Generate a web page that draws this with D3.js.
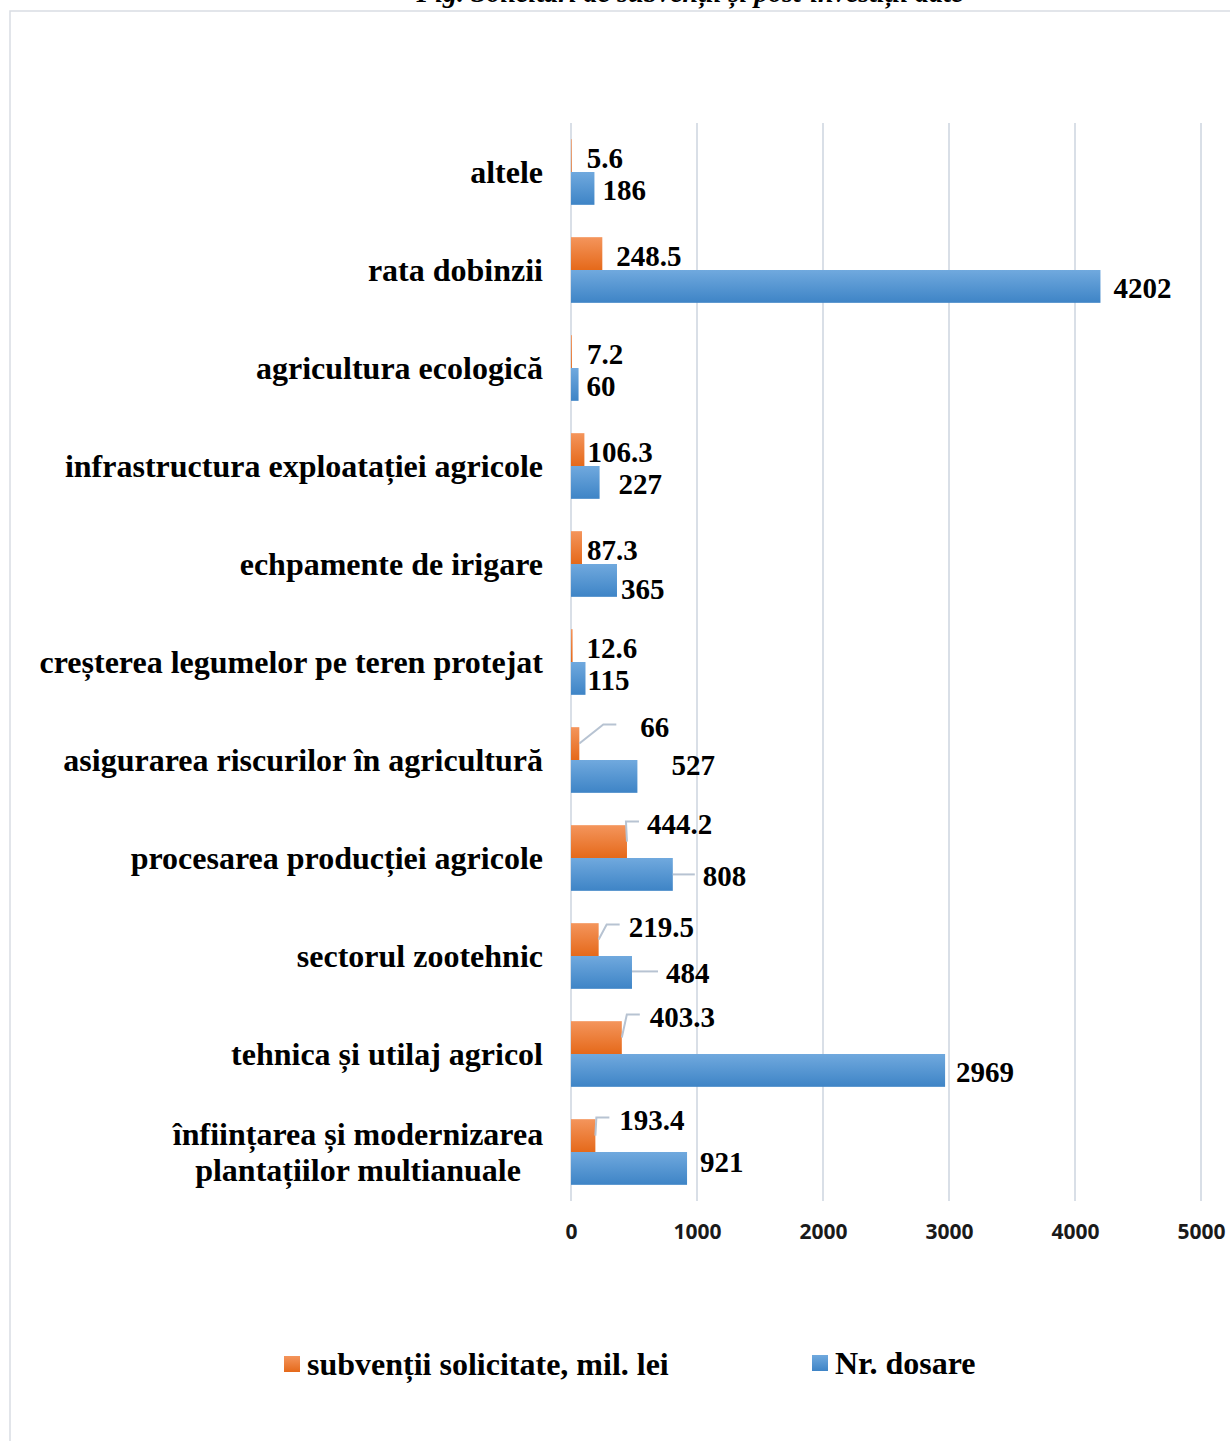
<!DOCTYPE html>
<html>
<head>
<meta charset="utf-8">
<script src="https://cdn.jsdelivr.net/npm/d3@7"></script>
<style>
  html, body { margin: 0; padding: 0; background: #fff; }
  svg { display: block; }
  .cat { font-family: "Liberation Serif", "Times New Roman", serif; font-weight: bold; font-size: 32px; fill: #000; }
  .val { font-family: "Liberation Serif", "Times New Roman", serif; font-weight: bold; font-size: 29px; fill: #000; }
  .tick text { font-family: "Open Sans", "Noto Sans", sans-serif; font-weight: bold; font-size: 21px; fill: #1a1a1a; }
  .legend text { font-family: "Liberation Serif", "Times New Roman", serif; font-weight: bold; font-size: 32px; fill: #000; }
</style>
</head>
<body>
<div id="chart"></div>
<script>
// categories, top to bottom as drawn
const categories = [
  'altele',
  'rata dobinzii',
  'agricultura ecologică',
  'infrastructura exploatației agricole',
  'echpamente de irigare',
  'creșterea legumelor pe teren protejat',
  'asigurarea riscurilor în agricultură',
  'procesarea producției agricole',
  'sectorul zootehnic',
  'tehnica și utilaj agricol',
  'înființarea și modernizarea\nplantațiilor multianuale'
];
const subventii = [5.6, 248.5, 7.2, 106.3, 87.3, 12.6, 66, 444.2, 219.5, 403.3, 193.4];
const dosare = [186, 4202, 60, 227, 365, 115, 527, 808, 484, 2969, 921];
const xTicks = [0, 1000, 2000, 3000, 4000, 5000];
const seriesNames = ['subvenții solicitate, mil. lei', 'Nr. dosare'];

// where Excel put each data label, relative to the bar end / bar centre
const orangeLabelPos = [
  { dx: 15, dy: 2 }, { dx: 14, dy: 2 }, { dx: 15, dy: 2 }, { dx: 3, dy: 2 },
  { dx: 5, dy: 2 }, { dx: 14, dy: 2 },
  { dx: 61, dy: -17, leader: 'elbow', gap: 24 },
  { dx: 20, dy: -18, leader: 'elbow', gap: 8 },
  { dx: 30, dy: -13, leader: 'elbow', gap: 9 },
  { dx: 28, dy: -21, leader: 'elbow', gap: 10 },
  { dx: 24, dy: -16, leader: 'elbow', gap: 10 }
];
const blueLabelPos = [
  { dx: 8, dy: 1 }, { dx: 13, dy: 1 }, { dx: 8, dy: 1 }, { dx: 19, dy: 1 },
  { dx: 4, dy: 8 }, { dx: 2, dy: 1 }, { dx: 34, dy: -12 },
  { dx: 30, dy: 1, leader: 'line', gap: 8 },
  { dx: 34, dy: 0, leader: 'line', gap: 8 },
  { dx: 11, dy: 1 }, { dx: 13, dy: -7 }
];

const W = 1230, H = 1441;
const plot = { left: 571, right: 1201, top: 123, bottom: 1201 };

const svg = d3.select('#chart').append('svg')
  .attr('width', W).attr('height', H);

const defs = svg.append('defs');
function grad(id, c1, c2) {
  const g = defs.append('linearGradient').attr('id', id)
    .attr('x1', 0).attr('y1', 0).attr('x2', 0).attr('y2', 1);
  g.append('stop').attr('offset', '0%').attr('stop-color', c1);
  g.append('stop').attr('offset', '100%').attr('stop-color', c2);
}
grad('gOrange', '#f4955c', '#e5691a');
grad('gBlue', '#70a9de', '#3e84c6');

// outer chart border (runs off the right and bottom edge)
svg.append('rect')
  .attr('x', 10).attr('y', 11).attr('width', 1240).attr('height', 1450)
  .attr('fill', 'none').attr('stroke', '#d9dde3').attr('stroke-width', 1.5);

// figure caption above the chart, cut by the page edge as in the source
svg.append('text')
  .attr('x', 690).attr('y', 2)
  .attr('text-anchor', 'middle')
  .style('font-family', '"Liberation Serif", serif')
  .style('font-style', 'italic').style('font-weight', 'bold')
  .style('font-size', '28px')
  .text('Fig. Solicitări de subvenții și post-investiții date');

const x = d3.scaleLinear().domain([0, 5000]).range([plot.left, plot.right]);
const y = d3.scaleBand().domain(d3.range(categories.length))
  .range([plot.top, plot.bottom]).paddingInner(0.33).paddingOuter(0.165);
const sub = d3.scaleBand().domain([0, 1]).range([0, y.bandwidth()]);

// gridlines
svg.append('g')
  .selectAll('line').data(xTicks).join('line')
  .attr('x1', d => x(d)).attr('x2', d => x(d))
  .attr('y1', plot.top).attr('y2', plot.bottom)
  .attr('stroke', '#d9dfe7').attr('stroke-width', 2);

// x axis tick labels
const axis = svg.append('g')
  .attr('transform', `translate(0,${plot.bottom + 13})`)
  .call(d3.axisBottom(x).tickValues(xTicks).tickSize(0).tickPadding(10).tickFormat(d3.format('d')));
axis.select('.domain').remove();
axis.selectAll('text').attr('dy', '0.7em');

// category labels
const catG = svg.append('g');
categories.forEach((c, i) => {
  const lines = c.split('\n');
  const cy = y(i) + y.bandwidth() / 2;
  if (lines.length === 1) {
    catG.append('text').attr('class', 'cat')
      .attr('x', 543).attr('y', cy).attr('dy', '0.33em')
      .attr('text-anchor', 'end').text(c);
  } else {
    lines.forEach((l, k) => {
      catG.append('text').attr('class', 'cat')
        .attr('x', 358).attr('y', cy + (k - 0.5) * 36).attr('dy', '0.33em')
        .attr('text-anchor', 'middle').text(l);
    });
  }
});

// bars
const series = [
  { values: subventii, fill: 'url(#gOrange)', pos: orangeLabelPos },
  { values: dosare, fill: 'url(#gBlue)', pos: blueLabelPos }
];

series.forEach((s, si) => {
  const g = svg.append('g');
  g.selectAll('rect').data(s.values).join('rect')
    .attr('x', x(0))
    .attr('y', (d, i) => y(i) + sub(si))
    .attr('width', d => Math.max(0.6, x(d) - x(0)))
    .attr('height', sub.bandwidth())
    .attr('fill', s.fill);

  s.values.forEach((d, i) => {
    const p = s.pos[i];
    const barEnd = x(d);
    const barMid = y(i) + sub(si) + sub.bandwidth() / 2;
    const lx = barEnd + p.dx;
    const ly = barMid + p.dy;
    if (p.leader === 'elbow') {
      const ex = lx - p.gap, ey = ly - 2;
      g.append('polyline')
        .attr('points', [[barEnd, barMid], [ex - 13, ey], [ex, ey]].map(q => q.join(',')).join(' '))
        .attr('fill', 'none').attr('stroke', '#b7c3d2').attr('stroke-width', 2);
    } else if (p.leader === 'line') {
      g.append('line')
        .attr('x1', barEnd).attr('y1', ly - 1).attr('x2', lx - p.gap).attr('y2', ly - 1)
        .attr('stroke', '#b7c3d2').attr('stroke-width', 2);
    }
    g.append('text').attr('class', 'val')
      .attr('x', lx).attr('y', ly).attr('dy', '0.35em')
      .text(String(d));
  });
});

// legend
const legend = svg.append('g').attr('class', 'legend');
const legendItems = [
  { name: seriesNames[0], fill: 'url(#gOrange)', x: 284, y: 1364 },
  { name: seriesNames[1], fill: 'url(#gBlue)', x: 812, y: 1363 }
];
legendItems.forEach(it => {
  legend.append('rect').attr('x', it.x).attr('y', it.y - 8)
    .attr('width', 16).attr('height', 16).attr('fill', it.fill);
  legend.append('text').attr('x', it.x + 23).attr('y', it.y).attr('dy', '0.35em').text(it.name);
});
</script>
</body>
</html>
